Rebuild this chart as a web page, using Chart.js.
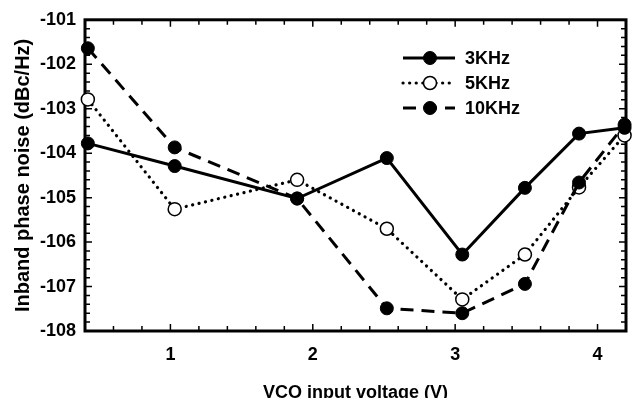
<!DOCTYPE html>
<html><head><meta charset="utf-8">
<script src="https://cdn.jsdelivr.net/npm/chart.js@4/dist/chart.umd.min.js"></script>
<style>html,body{margin:0;padding:0;background:#fff;overflow:hidden}</style>
</head><body>
<canvas id="c" width="634" height="398"></canvas>
<script>
// ---- data ----
const voltages = [0.42, 1.03, 1.89, 2.52, 3.05, 3.49, 3.87, 4.19];
const noise3k  = [-103.78, -104.29, -105.02, -104.11, -106.28, -104.78, -103.56, -103.43];
const noise5k  = [-102.79, -105.26, -104.60, -105.70, -107.29, -106.28, -104.77, -103.60];
const noise10k = [-101.64, -103.87, -105.02, -107.49, -107.60, -106.94, -104.66, -103.36];
const seriesNames = ['3KHz', '5KHz', '10KHz'];
const xTickValues = [1, 2, 3, 4];
const yTickValues = [-108, -107, -106, -105, -104, -103, -102, -101];
const xTitle = 'VCO input voltage (V)';
const yTitle = 'Inband phase noise (dBc/Hz)';

const FONT = '"Liberation Sans", Arial, sans-serif';
const toPts = ys => ys.map((y, i) => ({x: voltages[i], y}));

const datasets = [
  {label: seriesNames[0], data: toPts(noise3k), order: 0,
   borderColor: '#000', borderWidth: 3, borderDash: [],
   pointRadius: 6.5, pointBackgroundColor: '#000', pointBorderColor: '#000', pointBorderWidth: 1},
  {label: seriesNames[1], data: toPts(noise5k), order: 2,
   borderColor: '#000', borderWidth: 3.2, borderDash: [0.1, 6.5], borderCapStyle: 'round',
   pointRadius: 6.5, pointBackgroundColor: '#fff', pointBorderColor: '#000', pointBorderWidth: 1.5},
  {label: seriesNames[2], data: toPts(noise10k), order: 1,
   borderColor: '#000', borderWidth: 3, borderDash: [13, 8],
   pointRadius: 6.5, pointBackgroundColor: '#000', pointBorderColor: '#000', pointBorderWidth: 1}
];
datasets.forEach(d => { d.showLine = true; d.tension = 0; d.clip = false; d.fill = false; });

const framePlugin = {
  id: 'frame',
  beforeDatasetsDraw(chart) {
    const {ctx, chartArea: a, scales: {x, y}} = chart;
    ctx.save();
    ctx.strokeStyle = '#000';
    ctx.lineWidth = 1.5;
    ctx.beginPath();
    for (let k = Math.ceil(x.min * 5 - 1e-6); k <= Math.floor(x.max * 5 + 1e-6); k++) {
      const v = k / 5, px = x.getPixelForValue(v);
      const len = Math.abs(v - Math.round(v)) < 1e-6 ? 7 : 5;
      ctx.moveTo(px, a.bottom); ctx.lineTo(px, a.bottom - len);
      ctx.moveTo(px, a.top); ctx.lineTo(px, a.top + len);
    }
    for (let k = Math.ceil(y.min * 5 - 1e-6); k <= Math.floor(y.max * 5 + 1e-6); k++) {
      const v = k / 5, py = y.getPixelForValue(v);
      const len = Math.abs(v - Math.round(v)) < 1e-6 ? 7 : 5;
      ctx.moveTo(a.left, py); ctx.lineTo(a.left + len, py);
      ctx.moveTo(a.right, py); ctx.lineTo(a.right - len, py);
    }
    ctx.stroke();
    ctx.lineWidth = 3;
    ctx.strokeRect(a.left, a.top, a.right - a.left, a.bottom - a.top);
    ctx.restore();
  }
};

const legendPlugin = {
  id: 'customLegend',
  afterDraw(chart) {
    const {ctx} = chart;
    const x0 = 403, x1 = 455, xm = 430, tx = 465, rows = [58, 83, 108];
    ctx.save();
    chart.data.datasets.forEach((d, i) => {
      const yy = rows[i];
      ctx.strokeStyle = d.borderColor;
      ctx.lineWidth = d.borderWidth;
      ctx.lineCap = d.borderCapStyle || 'butt';
      ctx.setLineDash(d.borderDash || []);
      ctx.beginPath(); ctx.moveTo(x0, yy); ctx.lineTo(x1, yy); ctx.stroke();
      ctx.setLineDash([]);
      ctx.beginPath(); ctx.arc(xm, yy, d.pointRadius, 0, Math.PI * 2);
      ctx.fillStyle = d.pointBackgroundColor; ctx.fill();
      ctx.lineWidth = d.pointBorderWidth; ctx.strokeStyle = d.pointBorderColor; ctx.stroke();
      ctx.fillStyle = '#000';
      ctx.font = 'bold 18px ' + FONT;
      ctx.textBaseline = 'middle'; ctx.textAlign = 'left';
      ctx.fillText(d.label, tx, yy + 1);
    });
    ctx.restore();
  }
};

new Chart(document.getElementById('c'), {
  type: 'line',
  data: {datasets},
  plugins: [framePlugin, legendPlugin],
  options: {
    responsive: false,
    animation: false,
    events: [],
    layout: {padding: {left: 0, right: 7, top: 13, bottom: 0}},
    plugins: {legend: {display: false}, tooltip: {enabled: false}},
    scales: {
      x: {
        type: 'linear', min: 0.4, max: 4.2,
        afterBuildTicks: s => { s.ticks = xTickValues.map(v => ({value: v})); },
        afterFit: s => { s.height = 67; },
        grid: {display: false, drawTicks: false},
        border: {display: false},
        ticks: {color: '#000', font: {family: FONT, size: 18, weight: 'bold'}, padding: 13, maxRotation: 0},
        title: {display: true, text: xTitle, color: '#000',
                font: {family: FONT, size: 18, weight: 'bold'}, padding: {top: 0, bottom: -6}}
      },
      y: {
        type: 'linear', min: -108, max: -101,
        afterBuildTicks: s => { s.ticks = yTickValues.map(v => ({value: v})); },
        afterFit: s => { s.width = 85; },
        grid: {display: false, drawTicks: false},
        border: {display: false},
        ticks: {color: '#000', font: {family: FONT, size: 18, weight: 'bold'}, padding: 9},
        title: {display: true, text: yTitle, color: '#000',
                font: {family: FONT, size: 20, weight: 'bold'}, padding: {top: 11, bottom: 0}}
      }
    }
  }
});
</script>
</body></html>
